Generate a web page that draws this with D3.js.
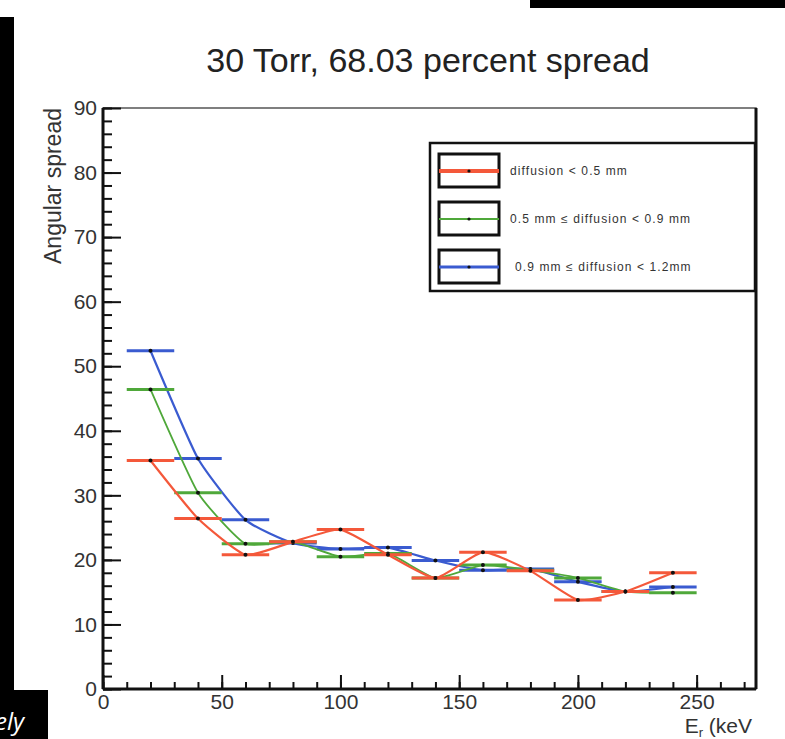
<!DOCTYPE html>
<html>
<head>
<meta charset="utf-8">
<script src="https://cdn.jsdelivr.net/npm/d3@7"></script>
<style>
body { margin: 0; background: #fff; }
svg { display: block; font-family: "Liberation Sans", Arial, sans-serif; }
</style>
</head>
<body>
<div id="chart"></div>
<script>
// bin centres (keV) and half width of each bin
var energy = [20, 40, 60, 80, 100, 120, 140, 160, 180, 200, 220, 240];
var binHalf = [10, 10, 10, 10, 10, 10, 10, 10, 10, 10, 10, 10];

var seriesNames = ["diffusion < 0.5 mm", "0.5 mm \u2264 diffusion < 0.9 mm", "0.9 mm \u2264 diffusion < 1.2mm"];
var redSpread = [35.4, 26.4, 20.8, 22.8, 24.7, 20.8, 17.2, 21.2, 18.3, 13.8, 15.1, 18.0];
var greenSpread = [46.4, 30.4, 22.5, 22.8, 20.5, 21.0, 17.2, 19.2, 18.4, 17.2, 15.1, 14.9];
var blueSpread = [52.4, 35.7, 26.2, 22.6, 21.7, 21.9, 19.9, 18.4, 18.6, 16.6, 15.1, 15.8];

var xTicks = [0, 50, 100, 150, 200, 250];
var yTicks = [0, 10, 20, 30, 40, 50, 60, 70, 80, 90];

var W = 785, H = 739;
var margin = {top: 108, right: 29, bottom: 50, left: 103};
var width = W - margin.left - margin.right;
var height = H - margin.top - margin.bottom;

var svg = d3.select("#chart").append("svg").attr("width", W).attr("height", H);

// scan artefacts around the figure
svg.append("rect").attr("x", 0).attr("y", 17).attr("width", 14).attr("height", 673).attr("fill", "#000");
svg.append("rect").attr("x", 530).attr("y", 0).attr("width", 255).attr("height", 8).attr("fill", "#000");
svg.append("clipPath").attr("id", "clipEly").append("rect").attr("x", 0).attr("y", 690).attr("width", 48).attr("height", 49);
svg.append("rect").attr("x", 0).attr("y", 690).attr("width", 48).attr("height", 49).attr("fill", "#000");
svg.append("text").attr("clip-path", "url(#clipEly)").attr("x", -5).attr("y", 730)
    .attr("fill", "#fff").attr("font-size", 24).attr("font-style", "italic")
    .attr("font-family", "'Open Sans', sans-serif").text("ely");

var g = svg.append("g").attr("transform", "translate(" + margin.left + "," + margin.top + ")");

var x = d3.scaleLinear().domain([0, 275]).range([0, width]);
var y = d3.scaleLinear().domain([0, 90]).range([height, 0]);

// frame
g.append("rect").attr("width", width).attr("height", height).attr("fill", "none").attr("stroke", "#555").attr("stroke-width", 1.5);
g.append("line").attr("x1", width).attr("x2", width).attr("y1", 0).attr("y2", height).attr("stroke", "#111").attr("stroke-width", 3);

// axes (minor then major ticks)
g.append("g").attr("transform", "translate(0," + height + ")")
    .call(d3.axisTop(x).tickValues(d3.range(0, 271, 10)).tickSize(7).tickFormat(""))
    .call(a => a.select(".domain").remove());
var xa = g.append("g").attr("transform", "translate(0," + height + ")")
    .call(d3.axisTop(x).tickValues(xTicks).tickSize(14));
xa.select(".domain").remove();

g.append("g").call(d3.axisRight(y).tickValues(d3.range(0, 91, 2)).tickSize(9).tickFormat(""))
    .call(a => a.select(".domain").remove());
var ya = g.append("g").call(d3.axisRight(y).tickValues(yTicks).tickSize(18));
ya.select(".domain").remove();

g.selectAll(".tick line").attr("stroke", "#111").attr("stroke-width", 2);
g.selectAll(".tick text").attr("font-size", 21).attr("fill", "#333").attr("font-family", "'Liberation Sans', Arial, sans-serif");
xa.selectAll("text").attr("y", 5).attr("dy", "0.71em");
ya.selectAll("text").attr("x", -6).attr("text-anchor", "end");

g.append("line").attr("x1", 0).attr("x2", 0).attr("y1", 0).attr("y2", height).attr("stroke", "#111").attr("stroke-width", 3);
g.append("line").attr("x1", 0).attr("x2", width).attr("y1", height).attr("y2", height).attr("stroke", "#111").attr("stroke-width", 3);

// titles
svg.append("text").attr("x", 428).attr("y", 72).attr("text-anchor", "middle")
    .attr("font-size", 34).attr("fill", "#222").text("30 Torr, 68.03 percent spread");
svg.append("text").attr("transform", "translate(61,108) rotate(-90)").attr("text-anchor", "end")
    .attr("font-size", 23).attr("fill", "#333").text("Angular spread");
var xt = svg.append("text").attr("x", 752).attr("y", 733).attr("text-anchor", "end")
    .attr("font-size", 21).attr("fill", "#333");
xt.append("tspan").text("E");
xt.append("tspan").attr("font-size", 13).attr("dy", 4).text("r");
xt.append("tspan").attr("dy", -4).text(" (keV");

// series
var series = [
    {name: seriesNames[2], values: blueSpread, color: "#3a5bd0", bar: 3, lw: 2.2},
    {name: seriesNames[1], values: greenSpread, color: "#4fa83a", bar: 3, lw: 1.8},
    {name: seriesNames[0], values: redSpread, color: "#f4583a", bar: 3, lw: 2.2}
];

var line = d3.line().x(d => x(d.e)).y(d => y(d.v)).curve(d3.curveCardinal.tension(0.5));

series.forEach(function(s) {
    var pts = energy.map((e, i) => ({e: e, v: s.values[i], h: binHalf[i]}));
    var sg = g.append("g");
    sg.append("path").datum(pts).attr("d", line).attr("fill", "none")
        .attr("stroke", s.color).attr("stroke-width", s.lw);
    sg.selectAll("line.err").data(pts).enter().append("line")
        .attr("x1", d => x(d.e - d.h)).attr("x2", d => x(d.e + d.h))
        .attr("y1", d => y(d.v)).attr("y2", d => y(d.v))
        .attr("stroke", s.color).attr("stroke-width", s.bar);
    sg.selectAll("circle").data(pts).enter().append("circle")
        .attr("cx", d => x(d.e)).attr("cy", d => y(d.v)).attr("r", 2).attr("fill", "#111");
});

// legend
var lg = svg.append("g").attr("transform", "translate(430,143)");
lg.append("rect").attr("width", 325).attr("height", 148).attr("fill", "#fff").attr("stroke", "#111").attr("stroke-width", 2.5);
var legendItems = [
    {name: seriesNames[0], color: "#f4583a", lw: 4, tx: 80},
    {name: seriesNames[1], color: "#4fa83a", lw: 2, tx: 80},
    {name: seriesNames[2], color: "#3a5bd0", lw: 3, tx: 85}
];
legendItems.forEach(function(d, i) {
    var row = lg.append("g").attr("transform", "translate(0," + (11 + i * 48) + ")");
    row.append("rect").attr("x", 9).attr("width", 60).attr("height", 33)
        .attr("fill", "#fff").attr("stroke", "#111").attr("stroke-width", 3);
    row.append("line").attr("x1", 9).attr("x2", 69).attr("y1", 17).attr("y2", 17)
        .attr("stroke", d.color).attr("stroke-width", d.lw);
    row.append("circle").attr("cx", 39).attr("cy", 17).attr("r", 1.6).attr("fill", "#111");
    row.append("text").attr("x", d.tx).attr("y", 21).attr("font-size", 12).attr("letter-spacing", 1.1)
        .attr("fill", "#333").text(d.name);
});
</script>
</body>
</html>
